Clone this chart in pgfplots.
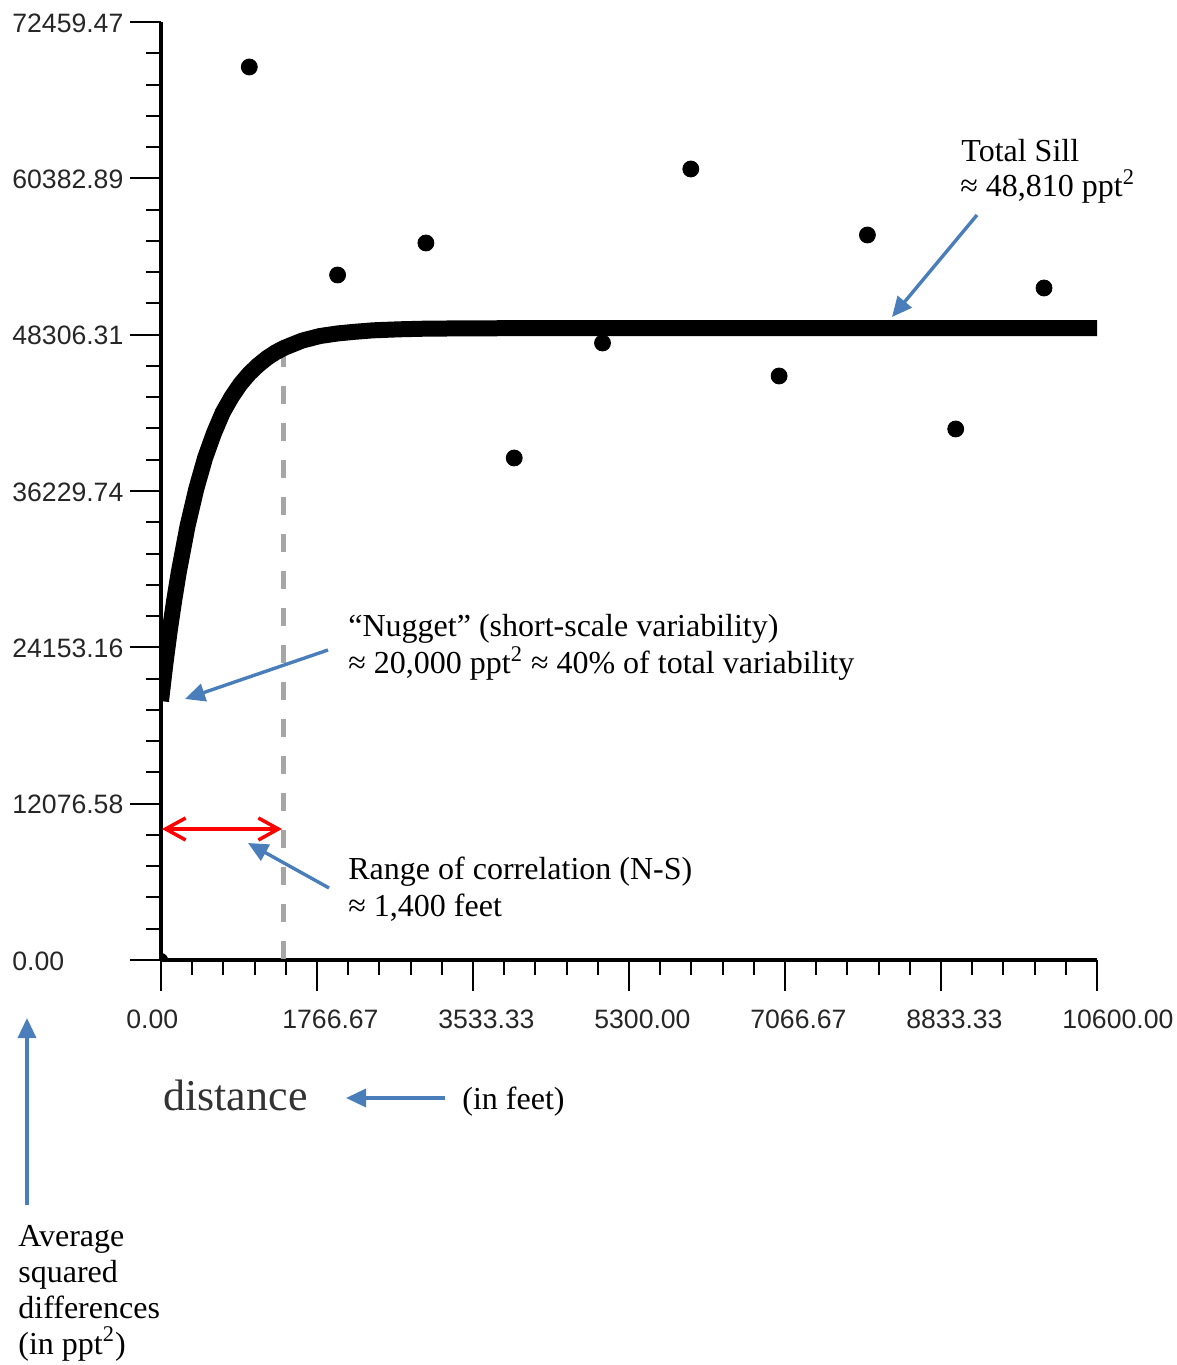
\documentclass[border=0pt]{standalone}
\usepackage{fontspec}
\setmainfont{Liberation Serif}
\newfontfamily\ticksans{Liberation Sans}
\usepackage{pgfplots}
\pgfplotsset{compat=1.18}
\usetikzlibrary{arrows.meta}
\definecolor{annblue}{RGB}{74,126,187}
\definecolor{dashgray}{RGB}{166,166,166}

\pgfplotstableread{
h v
0 20000
50 22900
100 25500
150 27800
200 29900
250 31700
300 33500
400 36400
500 38800
600 40700
700 42300
800 43500
900 44500
1000 45300
1100 45950
1200 46500
1300 46950
1400 47300
1600 47850
1800 48200
2000 48400
2200 48530
2400 48640
2700 48720
3000 48770
3500 48795
4000 48805
5000 48810
10600 48810
}\curvedata

\pgfplotstableread{
h v
1000 68983
2000 52915
3000 55388
4000 38779
5000 47662
6000 61104
7000 45113
8000 56006
9000 41019
10000 51911
}\pointdata

\begin{document}
\begin{tikzpicture}
\path (-80.5pt,-202.5pt) rectangle (508pt,480pt);
\begin{axis}[
  at={(0pt,0pt)}, anchor=south west,
  scale only axis, width=468pt, height=469pt,
  xmin=0, xmax=10600, ymin=0, ymax=72459.47,
  scaled ticks=false,
  axis lines=left,
  axis line style={-, line width=1.7pt, black},
  xtick pos=bottom, ytick pos=left,
  tick align=outside,
  major tick length=15.5pt, minor tick length=7.5pt,
  every tick/.style={black, line width=1pt},
  minor x tick num=4, minor y tick num=4,
  xtick={0,1766.667,3533.333,5300,7066.667,8833.333,10600},
  xticklabels={0.00,1766.67,3533.33,5300.00,7066.67,8833.33,10600.00},
  ytick={0,12076.578,24153.157,36229.735,48306.313,60382.892,72459.47},
  yticklabels={0.00,12076.58,24153.16,36229.74,48306.31,60382.89,72459.47},
  ticklabel style={font=\ticksans\fontsize{13.3}{16}\selectfont, text=black!85, inner sep=0pt},
  xticklabel style={anchor=base west, xshift=-17.5pt, yshift=-18.5pt},
  yticklabel style={anchor=west, xshift=-59pt, yshift=-0.5pt},
  clip=true,
]
\draw[dashgray, line width=2.25pt, dash pattern=on 9pt off 9.5pt] (axis cs:1385,47200) -- (axis cs:1385,0);
\addplot[black, line width=8pt, line join=round] table[x=h, y=v] {\curvedata};
\addplot[black, line width=7pt, line cap=round] coordinates {(0,0) (1,0)};
\addplot[only marks, mark=*, mark size=4pt, black] table[x=h, y=v] {\pointdata};
\end{axis}
% annotations (axis origin at (0,0); 1 px = 0.5 pt)
\draw[red, line width=1.75pt, {Straight Barb[length=10pt,width=11pt]}-{Straight Barb[length=10pt,width=11pt]}] (0.5pt,65.5pt) -- (60.5pt,65.5pt);
\begin{scope}[annblue, line width=1.7pt, -{Triangle[length=10pt,width=9pt]}]
\draw (408pt,372.5pt) -- (365.5pt,321.5pt);
\draw (83.5pt,155pt) -- (12pt,130.5pt);
\draw (84pt,36pt) -- (43.5pt,58.5pt);
\draw (142pt,-69pt) -- (92.5pt,-69pt);
\draw (-67pt,-122.5pt) -- (-67pt,-29pt);
\end{scope}
\begin{scope}[every node/.style={anchor=base west, inner sep=0pt, font=\fontsize{16}{18}\selectfont}]
\node at (400pt,399pt) {Total Sill};
\node at (399.5pt,381.5pt) {≈ 48,810 ppt\textsuperscript{2}};
\node at (93.5pt,161.5pt) {“Nugget” (short-scale variability)};
\node at (93.5pt,143pt) {≈ 20,000 ppt\textsuperscript{2} ≈ 40\% of total variability};
\node at (93.5pt,40pt) {Range of correlation (N-S)};
\node at (93.5pt,22pt) {≈ 1,400 feet};
\node at (150.5pt,-74.5pt) {(in feet)};
\node[font=\fontsize{22}{24}\selectfont, text=black!80] at (1pt,-75pt) {distance};
\node at (-71.5pt,-143pt) {Average};
\node at (-71.5pt,-161pt) {squared};
\node at (-71.5pt,-179pt) {differences};
\node at (-71.5pt,-197pt) {(in ppt\textsuperscript{2})};
\end{scope}
\end{tikzpicture}
\end{document}
